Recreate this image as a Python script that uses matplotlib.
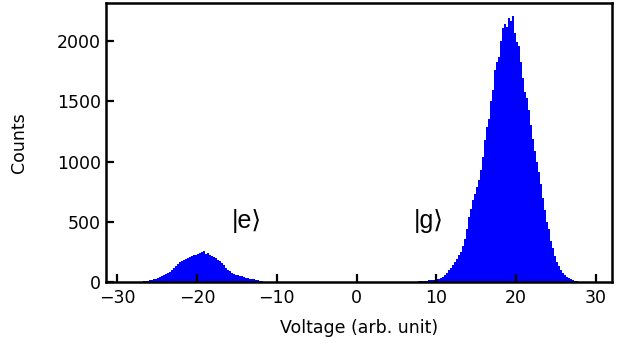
import matplotlib
matplotlib.use('Agg')
import matplotlib.pyplot as plt
import numpy as np

bin_width = 0.25

# |e> peak, bins starting at -27.0
e_start = -27.0
e_counts = [3, 5, 7, 10, 14, 18, 23, 29, 36, 44, 52, 60, 68, 76, 86, 100,
            118, 134, 148, 162, 172, 184, 194, 200, 207, 214, 222, 228, 232, 238, 245, 255,
            232, 242, 224, 218, 208, 198, 186, 172, 155, 138, 120, 102, 88, 76, 66, 60,
            55, 51, 47, 42, 37, 33, 29, 25, 21, 17, 13, 9, 6, 3]

# |g> peak, bins starting at 7.5
g_start = 7.5
g_counts = [3, 5, 6, 8, 10, 12, 14, 15, 18, 20, 22, 26, 32, 45, 60, 75,
            100, 120, 145, 165, 195, 220, 250, 300, 360, 440, 540, 610, 680, 730, 790, 850,
            930, 1040, 1180, 1290, 1350, 1500, 1590, 1760, 1830, 1870, 2000, 2110, 2140, 2120, 2190, 2170,
            2210, 2070, 1990, 1960, 1830, 1690, 1580, 1530, 1430, 1300, 1190, 1090, 1000, 910, 810, 700,
            600, 500, 440, 340, 280, 215, 170, 135, 100, 78, 58, 42, 31, 22, 15, 10, 5, 2]

x_ticks = [-30, -20, -10, 0, 10, 20, 30]
y_ticks = [0, 500, 1000, 1500, 2000]

plt.rcParams['font.family'] = ['DejaVu Sans']

fig = plt.figure(figsize=(6.18, 3.45), dpi=100)
ax = fig.add_axes([0.1715, 0.1826, 0.8185, 0.8085])

e_left = e_start + bin_width * np.arange(len(e_counts))
g_left = g_start + bin_width * np.arange(len(g_counts))
ax.bar(e_left, e_counts, width=bin_width, align='edge', color='#0000ff', linewidth=0)
ax.bar(g_left, g_counts, width=bin_width, align='edge', color='#0000ff', linewidth=0)

ax.set_xlim(-31.4, 32.0)
ax.set_ylim(0, 2315)
ax.set_xticks(x_ticks)
ax.set_yticks(y_ticks)
ax.set_xticklabels([str(t).replace('-', '\u2212') for t in x_ticks])
ax.tick_params(direction='in', length=5.5, width=1.6, labelsize=12.5,
               top=False, right=False)
ax.tick_params(axis='x', pad=5)
for s in ax.spines.values():
    s.set_linewidth(1.8)

ax.set_xlabel('Voltage (arb. unit)', fontsize=12.5, labelpad=9)
ax.set_ylabel('Counts', fontsize=12.5, labelpad=21)

ax.text(-13.8, 505, '|e\u27e9', fontsize=18, ha='center', va='center',
        family=['Liberation Sans', 'DejaVu Sans'])
ax.text(9.1, 505, '|g\u27e9', fontsize=18, ha='center', va='center',
        family=['Liberation Sans', 'DejaVu Sans'])

fig.savefig('out.png', dpi=100)
